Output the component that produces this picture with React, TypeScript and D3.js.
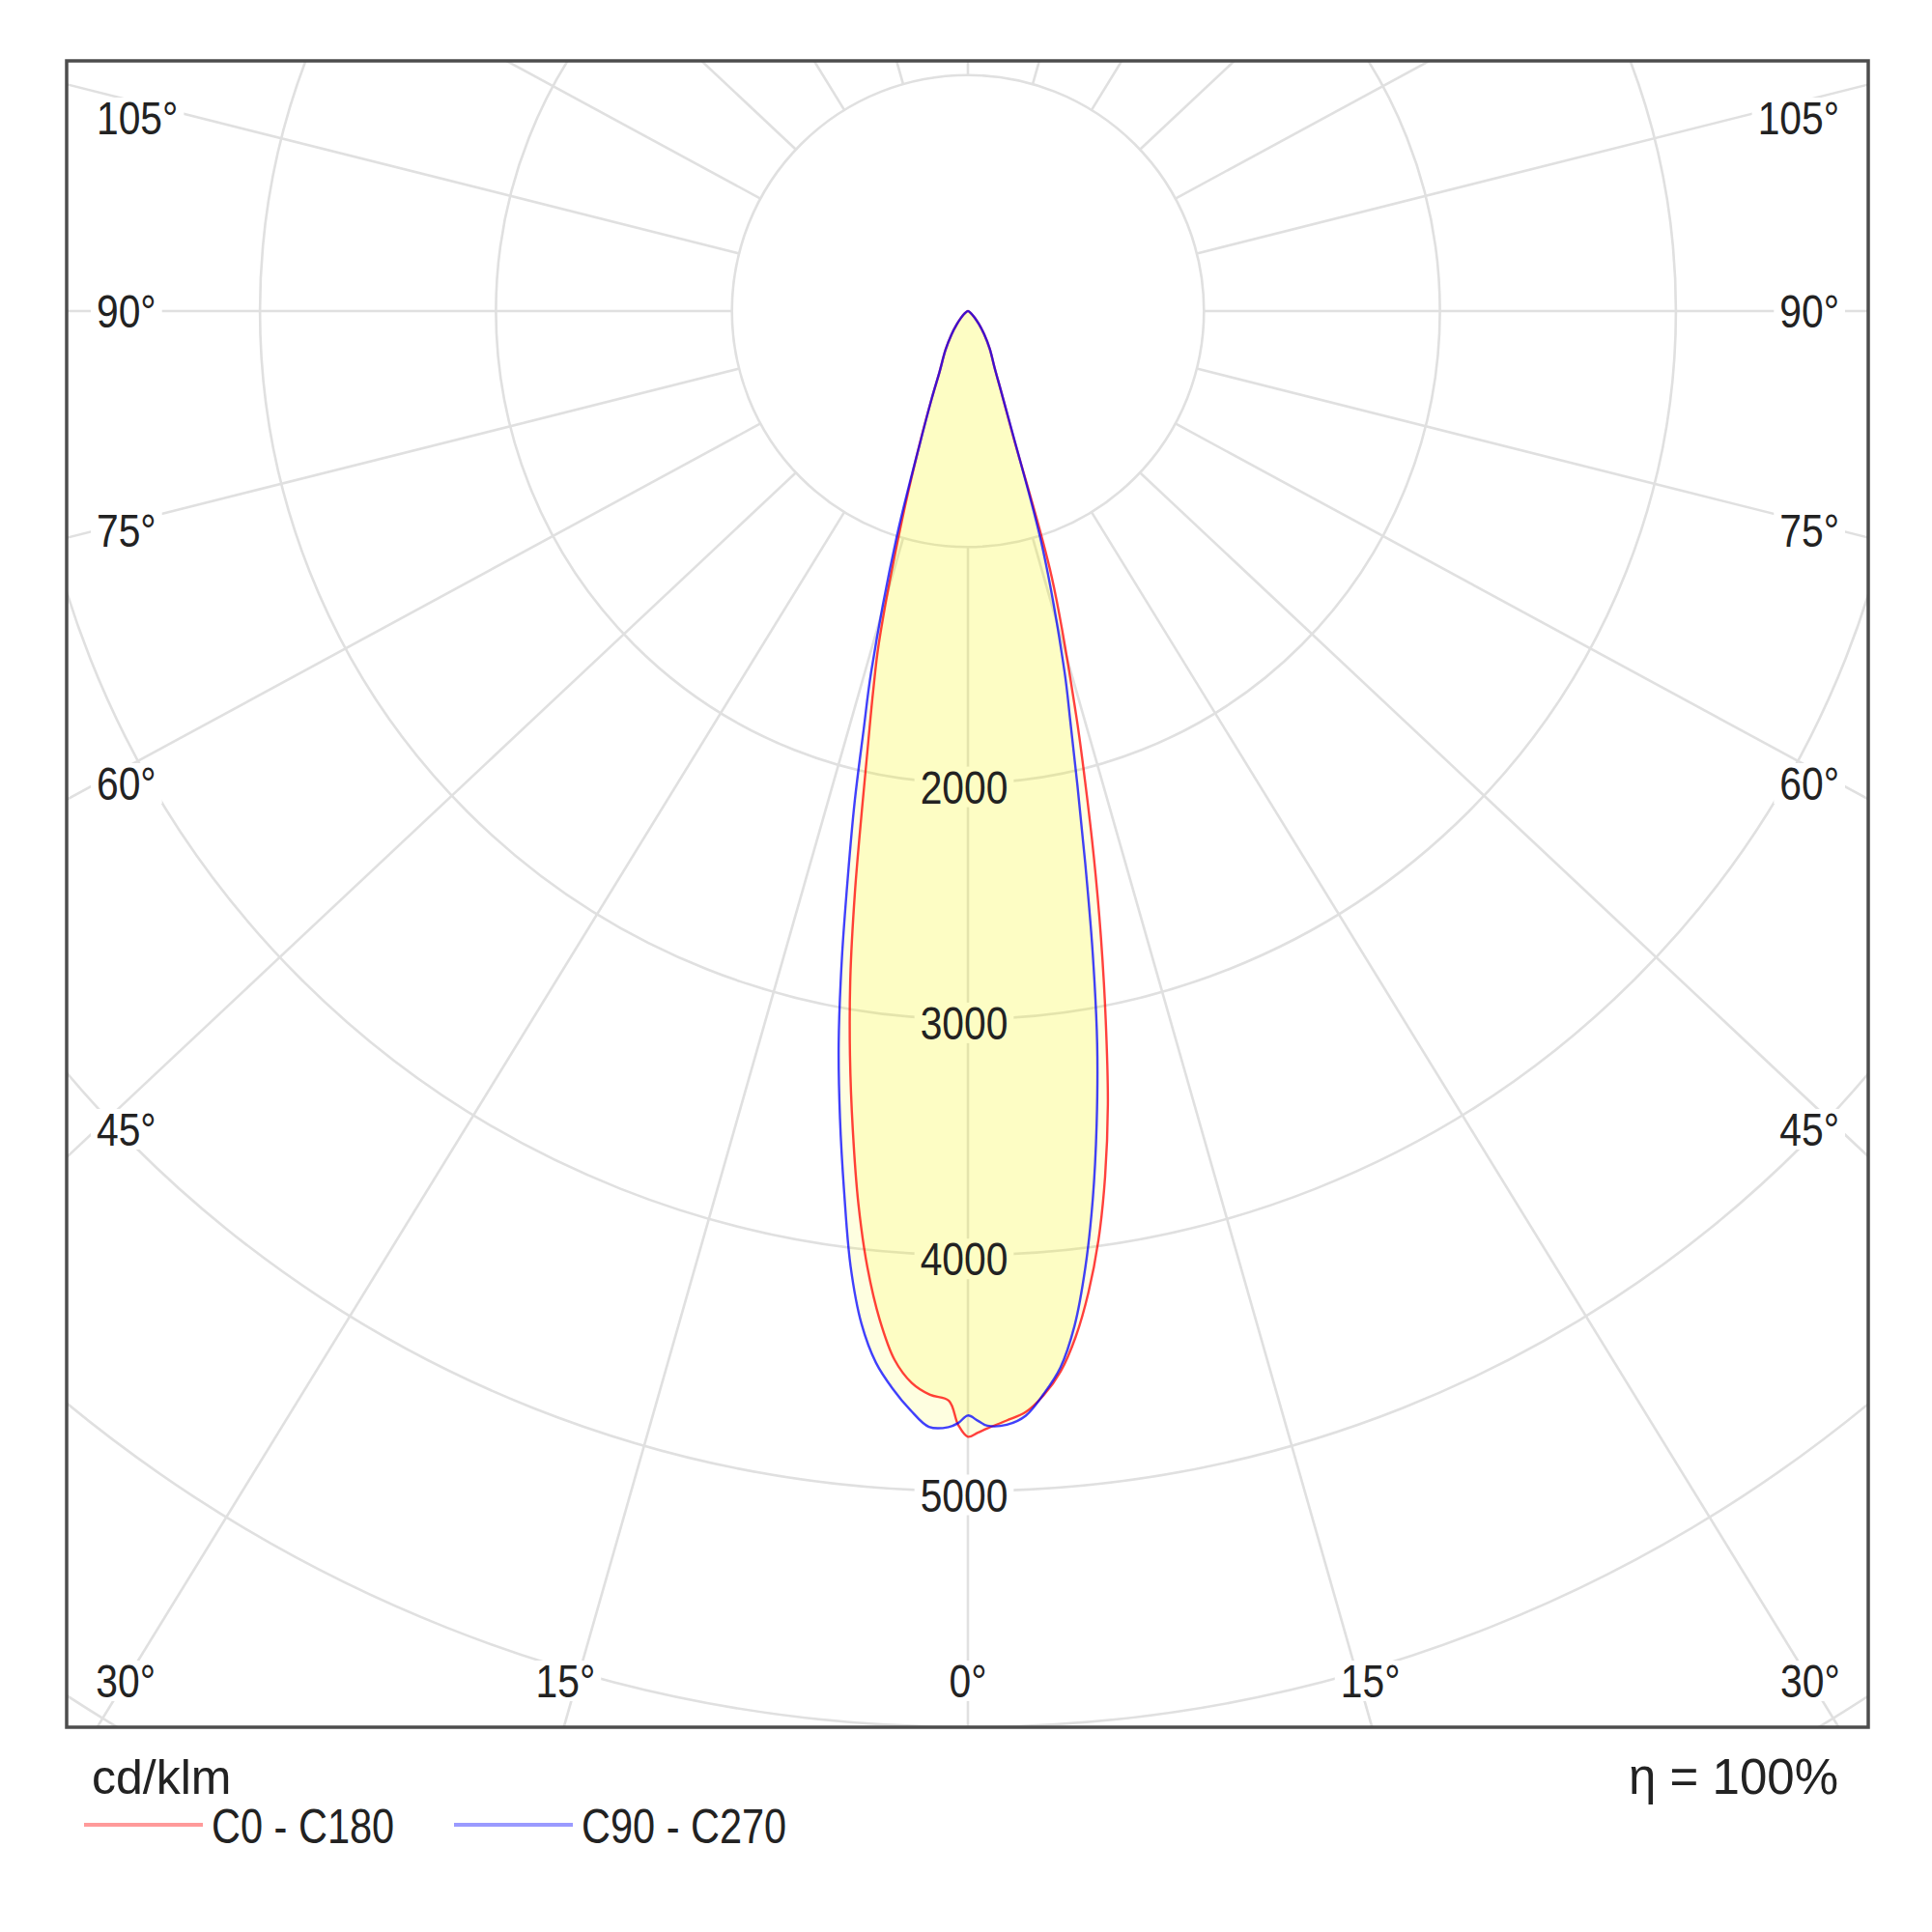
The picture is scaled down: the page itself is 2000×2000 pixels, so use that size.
import React from 'react';
import * as d3 from 'd3';

// luminous intensity in cd/klm, by gamma angle (degrees from nadir)
const gammaDeg = [0, 0.5, 1, 2, 3, 4, 5, 6, 7, 8, 9, 10, 11, 12, 13, 14, 15, 17.5, 20, 22.5, 25, 30, 35, 40, 45, 50, 60, 70, 80, 90];
const c0 = [4770, 4753, 4735, 4704, 4672, 4605, 4510, 4370, 4190, 3975, 3715, 3415, 3060, 2710, 2370, 2050, 1770, 1180, 549, 366, 270, 185, 120, 72, 42, 25, 9, 3, 1, 0];
const c180 = [4770, 4720, 4618, 4595, 4548, 4455, 4290, 4075, 3810, 3505, 3195, 2870, 2510, 2160, 1880, 1660, 1460, 930, 595, 400, 285, 190, 122, 74, 43, 26, 9, 3, 1, 0];
const c90 = [4680, 4702, 4724, 4722, 4687, 4600, 4494, 4323, 4083, 3801, 3487, 3154, 2771, 2390, 2063, 1795, 1581, 1050, 560, 366, 270, 185, 120, 72, 42, 25, 9, 3, 1, 0];
const c270 = [4680, 4712, 4730, 4731, 4663, 4577, 4473, 4315, 4079, 3769, 3465, 3154, 2801, 2445, 2133, 1825, 1585, 1005, 590, 400, 285, 190, 122, 74, 43, 26, 9, 3, 1, 0];

const seriesNames = ['C0 - C180', 'C90 - C270'];
const rings = [1000, 2000, 3000, 4000, 5000, 6000, 7000];
const ringLabels = [2000, 3000, 4000, 5000];
const spokes = d3.range(-165, 181, 15);
const angleLabels = [-105, -90, -75, -60, -45, -30, -15, 0, 15, 30, 45, 60, 75, 90, 105];
const unitLabel = 'cd/klm';
const efficiencyLabel = 'η = 100%';

const W = 2000;
const H = 2000;
const cx = 1002;
const cy = 322;
const box = { left: 69, top: 63, right: 1934, bottom: 1788 };
const spokeAspect = 1.065;
const font = "'Liberation Sans', Arial, Helvetica, sans-serif";
const gridColor = '#e0e0e0';
const lineColors = ['#ff0000', '#0000ff'];
const legendColors = ['#ff9a9a', '#9a9aff'];

const labelInset = 902;
const labelBottom = 1740;
const labelTopMin = 122;
const bottomShift = 12;
const tickFs = 48;
const squeeze = 0.85;

const rScale = d3.scaleLinear().domain([0, 1000]).range([0, 244.3]);
const rad = (d: number) => (d * Math.PI) / 180;

const dir = (deg: number): [number, number] => {
  const ux = Math.sin(rad(deg)) * spokeAspect;
  const uy = Math.cos(rad(deg));
  const n = Math.hypot(ux, uy);
  return [ux / n, uy / n];
};

const lobePoints = (right: number[], left: number[]) => {
  const pts: [number, number][] = [];
  gammaDeg.forEach((g, i) => {
    const r = rScale(right[i]);
    pts.push([cx + r * Math.sin(rad(g)), cy + r * Math.cos(rad(g))]);
  });
  for (let i = gammaDeg.length - 2; i >= 1; i--) {
    const r = rScale(left[i]);
    const g = gammaDeg[i];
    pts.push([cx - r * Math.sin(rad(g)), cy + r * Math.cos(rad(g))]);
  }
  return pts;
};

const lobeLine = d3.line().curve(d3.curveCatmullRomClosed.alpha(0.5));

const placeAngle = (deg: number) => {
  const [ux, uy] = dir(deg);
  const tSide = Math.abs(ux) > 1e-6 ? labelInset / Math.abs(ux) : Infinity;
  const tBottom = uy > 1e-6 ? (labelBottom - cy) / uy : Infinity;
  if (tBottom <= tSide) {
    const shift = Math.abs(ux) > 0.2 && Math.abs(ux) < 0.4 ? Math.sign(ux) * bottomShift : 0;
    return { x: cx + tBottom * ux + shift, y: labelBottom, anchor: 'middle' as const };
  }
  return {
    x: cx + Math.sign(ux) * labelInset,
    y: Math.max(labelTopMin, cy + tSide * uy),
    anchor: ux < 0 ? ('start' as const) : ('end' as const),
  };
};

const textWidth = (s: string, fs: number) =>
  s.split('').reduce((w, ch) => w + (ch === '°' ? 0.4 : 0.556), 0) * fs * squeeze;

const App: React.FC = () => {
  const lobes = [lobePoints(c0, c180), lobePoints(c90, c270)];
  const ticks = angleLabels.map((a) => ({ text: `${Math.abs(a)}°`, ...placeAngle(a) }));

  return (
    <svg width={W} height={H} style={{ position: 'absolute', left: 0, top: 0, background: '#fff' }} fontFamily={font}>
      <defs>
        <clipPath id="plotClip">
          <rect x={box.left} y={box.top} width={box.right - box.left} height={box.bottom - box.top} />
        </clipPath>
      </defs>
      <rect x={0} y={0} width={W} height={H} fill="#fff" />

      <g clipPath="url(#plotClip)">
        {rings.map((v) => (
          <circle key={v} cx={cx} cy={cy} r={rScale(v)} fill="none" stroke={gridColor} strokeWidth={2.6} />
        ))}
        {spokes.map((a) => {
          const [ux, uy] = dir(a);
          const r0 = rScale(1000);
          const r1 = rScale(9000);
          return (
            <line key={a} x1={cx + r0 * ux} y1={cy + r0 * uy} x2={cx + r1 * ux} y2={cy + r1 * uy} stroke={gridColor} strokeWidth={2.6} />
          );
        })}
      </g>

      {/* white plates behind labels */}
      {ticks.map((t, i) => {
        const w = textWidth(t.text, tickFs);
        const x0 = t.anchor === 'start' ? t.x : t.anchor === 'end' ? t.x - w : t.x - w / 2;
        return <rect key={`tb${i}`} x={x0 - 6} y={t.y - 21} width={w + 12} height={42} fill="#fff" />;
      })}
      {ringLabels.map((v) => {
        const w = textWidth(String(v), tickFs);
        return <rect key={`rb${v}`} x={cx - 4 - w / 2 - 6} y={cy + rScale(v) + 4 - 21} width={w + 12} height={42} fill="#fff" />;
      })}

      {lobes.map((pts, i) => (
        <path key={`f${i}`} d={lobeLine(pts) || ''} fill="#f6f500" fillOpacity={0.12} stroke="none" />
      ))}
      {lobes.map((pts, i) => (
        <path key={`s${i}`} d={lobeLine(pts) || ''} fill="none" stroke={lineColors[i]} strokeOpacity={0.75} strokeWidth={2.4} strokeLinejoin="round" />
      ))}

      {ticks.map((t, i) => (
        <g key={`t${i}`} transform={`translate(${t.x},${t.y}) scale(${squeeze},1)`}>
          <text x={0} y={0} dy="0.36em" textAnchor={t.anchor} fontSize={tickFs} fill="#222">
            {t.text}
          </text>
        </g>
      ))}
      {ringLabels.map((v) => (
        <g key={`r${v}`} transform={`translate(${cx - 4},${cy + rScale(v) + 4}) scale(${squeeze},1)`}>
          <text x={0} y={0} dy="0.36em" textAnchor="middle" fontSize={tickFs} fill="#222">
            {v}
          </text>
        </g>
      ))}

      <rect
        x={box.left}
        y={box.top}
        width={box.right - box.left}
        height={box.bottom - box.top}
        fill="none"
        stroke="#4d4d4d"
        strokeWidth={3.5}
      />

      {/* legend */}
      <text x={95} y={1857} fontSize={50} fill="#222">
        {unitLabel}
      </text>
      <text x={1903} y={1857} fontSize={51} fill="#222" textAnchor="end">
        {efficiencyLabel}
      </text>
      {seriesNames.map((name, i) => {
        const x0 = i === 0 ? 87 : 470;
        return (
          <g key={name}>
            <line x1={x0} x2={x0 + 123} y1={1889} y2={1889} stroke={legendColors[i]} strokeWidth={4} />
            <g transform={`translate(${x0 + 132},1908) scale(0.83,1)`}>
              <text x={0} y={0} fontSize={50} fill="#222">
                {name}
              </text>
            </g>
          </g>
        );
      })}
    </svg>
  );
};

export default App;
